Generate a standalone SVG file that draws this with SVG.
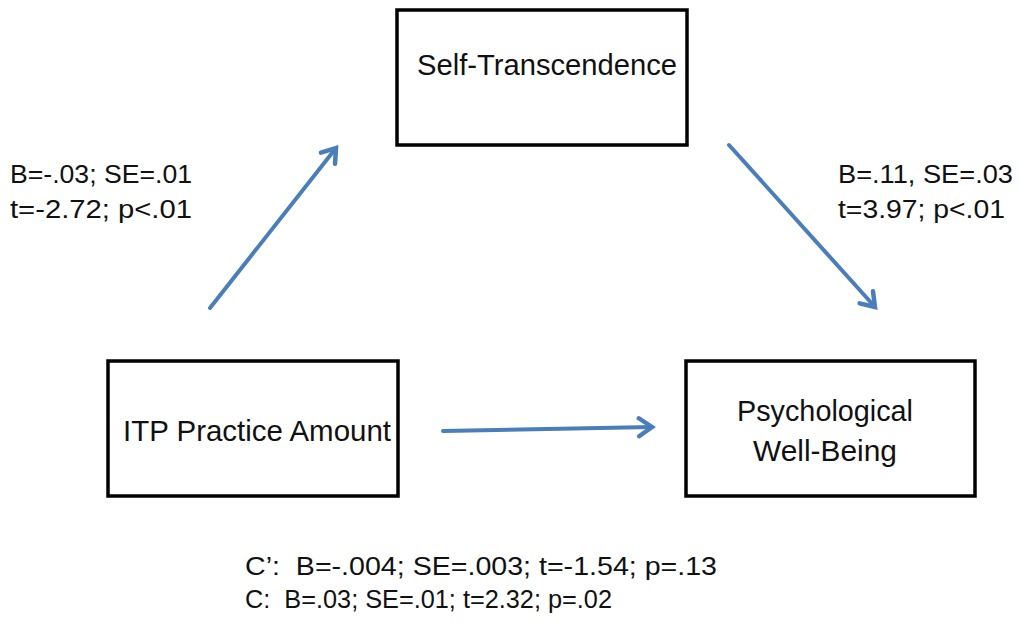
<svg xmlns="http://www.w3.org/2000/svg" width="1021" height="629" viewBox="0 0 1021 629">
<style>
.box{fill:#fff;stroke:#000;stroke-width:3.5}
.t{font-family:"Liberation Sans",Arial,sans-serif;font-size:29px;fill:#111}
.lbl{font-family:"Liberation Sans",Arial,sans-serif;font-size:26px;fill:#111}
.conn{stroke:#4a7ebb;stroke-width:4;fill:none;stroke-linecap:round}
</style>
<defs>
<marker id="arr" markerUnits="userSpaceOnUse" viewBox="-20 -12 24 24" markerWidth="24" markerHeight="24" refX="0" refY="0" orient="auto">
<path d="M-13,-9 L0,0 L-13,9" fill="none" stroke="#4a7ebb" stroke-width="4.5" stroke-linecap="round" stroke-linejoin="miter"/>
</marker>
</defs>
<rect width="1021" height="629" fill="#fff"/>
<g id="self-transcendence">
<rect class="box" x="397" y="10" width="290" height="135"/>
<text class="t" x="417" y="75" textLength="260" lengthAdjust="spacingAndGlyphs">Self-Transcendence</text>
</g>
<g id="itp-practice-amount">
<rect class="box" x="108" y="361" width="290" height="135"/>
<text class="t" x="123" y="441" textLength="268" lengthAdjust="spacingAndGlyphs">ITP Practice Amount</text>
</g>
<g id="psychological-well-being">
<rect class="box" x="686" y="361" width="289" height="135"/>
<text class="t" x="737" y="421" textLength="176" lengthAdjust="spacingAndGlyphs">Psychological</text>
<text class="t" x="753" y="461" textLength="144" lengthAdjust="spacingAndGlyphs">Well-Being</text>
</g>
<g id="connectors">
<line class="conn" x1="210" y1="308" x2="336" y2="148" marker-end="url(#arr)"/>
<line class="conn" x1="729" y1="145" x2="875" y2="307" marker-end="url(#arr)"/>
<line class="conn" x1="443" y1="431" x2="652" y2="427" marker-end="url(#arr)"/>
</g>
<g id="labels">
<text class="lbl" x="10" y="183" textLength="182" lengthAdjust="spacingAndGlyphs">B=-.03; SE=.01</text>
<text class="lbl" x="10" y="218" textLength="182" lengthAdjust="spacingAndGlyphs">t=-2.72; p&lt;.01</text>
<text class="lbl" x="838" y="183" textLength="175" lengthAdjust="spacingAndGlyphs">B=.11, SE=.03</text>
<text class="lbl" x="838" y="218" textLength="167" lengthAdjust="spacingAndGlyphs">t=3.97; p&lt;.01</text>
<text class="lbl" x="245" y="575" textLength="472" lengthAdjust="spacingAndGlyphs" xml:space="preserve">C’:  B=-.004; SE=.003; t=-1.54; p=.13</text>
<text class="lbl" x="245" y="608" textLength="367" lengthAdjust="spacingAndGlyphs" xml:space="preserve">C:  B=.03; SE=.01; t=2.32; p=.02</text>
</g>
</svg>
